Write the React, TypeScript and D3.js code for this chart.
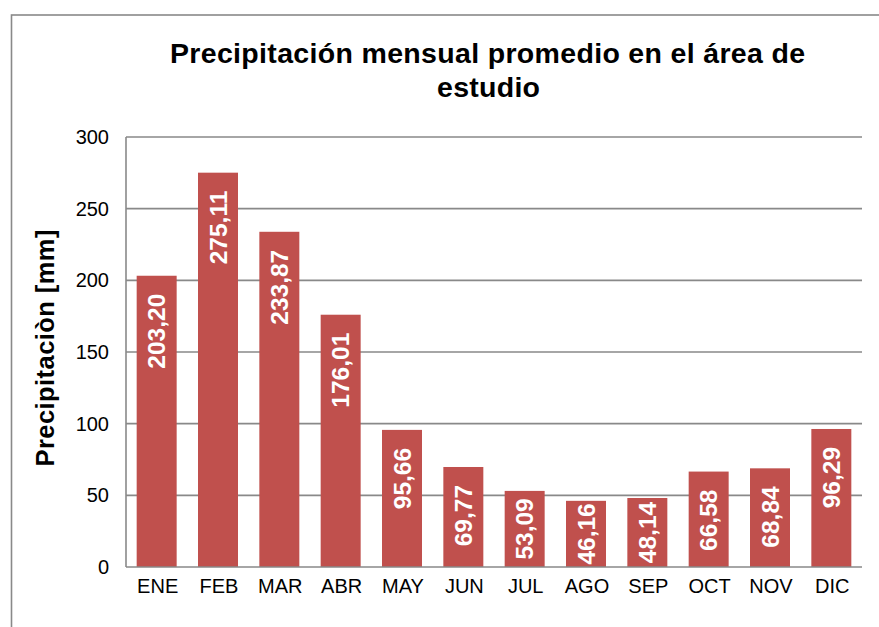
import React from "react";
import * as d3 from "d3";

const months = ["ENE", "FEB", "MAR", "ABR", "MAY", "JUN", "JUL", "AGO", "SEP", "OCT", "NOV", "DIC"];
const precip = [203.2, 275.11, 233.87, 176.01, 95.66, 69.77, 53.09, 46.16, 48.14, 66.58, 68.84, 96.29];
const yTicks = [0, 50, 100, 150, 200, 250, 300];
const titleLines = ["Precipitación mensual promedio en el área de", "estudio"];
const yAxisTitle = "Precipitaciòn [mm]";

const W = 879;
const H = 627;
const FONT = "'Liberation Sans', Arial, sans-serif";
const BAR = "#C0504D";
const GRID = "#898989";

export default function App() {
  const left = 126, right = 862, top = 137, bottom = 567;
  const x = d3.scaleBand<string>().domain(months).range([left, right]).paddingInner(0.348).paddingOuter(0.174);
  const y = d3.scaleLinear().domain([0, 300]).range([bottom, top]);
  const fmt = (v: number) => v.toFixed(2).replace(".", ",");
  const labelSize = 24.5;

  return (
    <svg width={W} height={H} style={{ position: "absolute", left: 0, top: 0, display: "block" }} fontFamily={FONT}>
      <rect x={0} y={0} width={W} height={H} fill="#fff" />
      <rect x={11.5} y={15} width={1000} height={800} fill="none" stroke={GRID} strokeWidth={1.6} />

      {/* title */}
      <text x={487.5} y={63} textAnchor="middle" fontSize={28.5} fontWeight="bold" fill="#000" textLength={635} lengthAdjust="spacing">
        {titleLines[0]}
      </text>
      <text x={488.5} y={97} textAnchor="middle" fontSize={28.5} fontWeight="bold" fill="#000" textLength={103} lengthAdjust="spacing">
        {titleLines[1]}
      </text>

      {/* gridlines */}
      {yTicks.filter((t) => t > 0).map((t) => (
        <line key={"g" + t} x1={left} x2={right} y1={y(t)} y2={y(t)} stroke={GRID} strokeWidth={1.6} />
      ))}

      {/* y tick labels */}
      {yTicks.map((t) => (
        <text key={"t" + t} x={109} y={y(t)} dy="0.35em" textAnchor="end" fontSize={20} fill="#000">
          {t}
        </text>
      ))}

      {/* bars */}
      {months.map((m, i) => (
        <rect key={"b" + m} x={x(m)!} y={y(precip[i])} width={x.bandwidth()} height={bottom - y(precip[i])} fill={BAR} />
      ))}

      {/* axes */}
      <line x1={left} x2={left} y1={top} y2={bottom} stroke={GRID} strokeWidth={1.6} />
      <line x1={left} x2={right} y1={bottom} y2={bottom} stroke={GRID} strokeWidth={1.6} />

      {/* data labels */}
      {months.map((m, i) => {
        const s = fmt(precip[i]);
        const digits = s.replace(",", "").length;
        const len = labelSize * (0.556 * digits + 0.278);
        const barTop = y(precip[i]);
        const h = bottom - barTop;
        const cx = x(m)! + x.bandwidth() / 2;
        const fits = len + 34 <= h;
        const py = fits ? barTop + 18 : (barTop + bottom) / 2;
        return (
          <text
            key={"l" + m}
            transform={`translate(${cx},${py}) rotate(-90)`}
            textAnchor={fits ? "end" : "middle"}
            dy="0.35em"
            fontSize={labelSize}
            fontWeight="bold"
            fill="#fff"
          >
            {s}
          </text>
        );
      })}

      {/* category labels */}
      {months.map((m) => (
        <text key={"c" + m} x={x(m)! + x.bandwidth() / 2 + 1} y={bottom + 26} textAnchor="middle" fontSize={20} fill="#000">
          {m}
        </text>
      ))}

      {/* y axis title */}
      <text
        transform={`translate(54,348) rotate(-90)`}
        textAnchor="middle"
        fontSize={25.5}
        fontWeight="bold"
        fill="#000"
        textLength={237}
        lengthAdjust="spacing"
      >
        {yAxisTitle}
      </text>
    </svg>
  );
}
